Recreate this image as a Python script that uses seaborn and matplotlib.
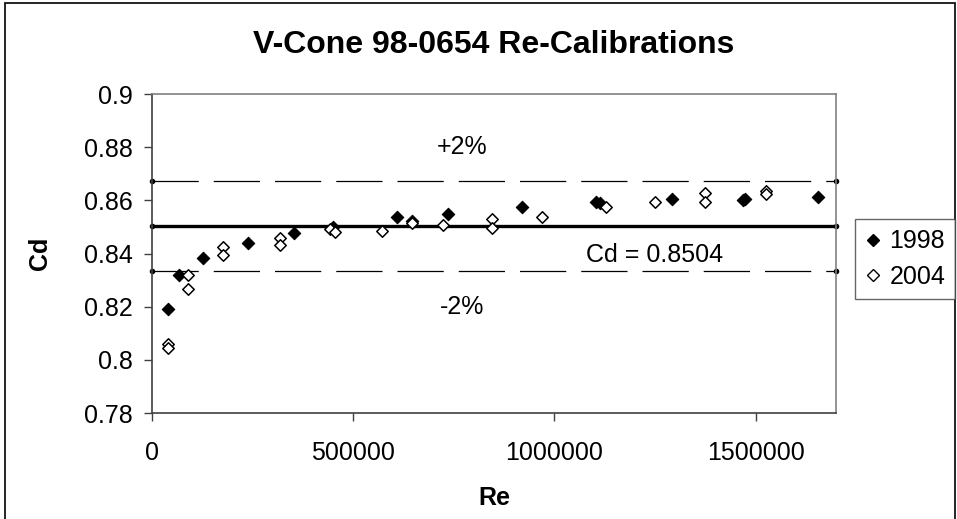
import matplotlib
matplotlib.use("Agg")
import pandas as pd
import seaborn as sns
from matplotlib import pyplot as plt
from matplotlib.lines import Line2D
from matplotlib.patches import Rectangle

# Calibration points
re_1998 = [39000, 68000, 127500, 239000, 353000, 449000, 610000, 645000,
           736000, 919000, 1103500, 1113500, 1292000, 1469000, 1474000, 1654500]
cd_1998 = [0.8190, 0.8319, 0.8383, 0.8438, 0.8476, 0.8498, 0.8537, 0.8522,
           0.8547, 0.8574, 0.8595, 0.8589, 0.8604, 0.8601, 0.8604, 0.8611]

re_2004 = [39000, 39000, 88700, 90200, 177000, 177000, 318000, 318000,
           442000, 455000, 571000, 645000, 724000, 844000, 844000, 970000,
           1128000, 1251000, 1375000, 1375000, 1525000, 1525000]
cd_2004 = [0.8058, 0.8043, 0.8265, 0.8319, 0.8423, 0.8394, 0.8457, 0.8432,
           0.8491, 0.8482, 0.8485, 0.8515, 0.8507, 0.8530, 0.8496, 0.8538,
           0.8574, 0.8595, 0.8629, 0.8595, 0.8636, 0.8624]

cd_mean = 0.8504
band = 0.02
re_range = [0, 1700000]

plt.rcParams['font.family'] = ['Liberation Sans', 'DejaVu Sans']

df98 = pd.DataFrame({'Re': re_1998, 'Cd': cd_1998})
df04 = pd.DataFrame({'Re': re_2004, 'Cd': cd_2004})

fig = plt.figure(figsize=(9.57, 5.19), dpi=100)
ax = fig.add_axes([152 / 957, 1 - 413 / 519, 684 / 957, 319 / 519])

# mean and +/- 2% lines
upper = cd_mean * (1 + band)
lower = cd_mean * (1 - band)
ax.plot(re_range, [cd_mean, cd_mean], color='black', lw=2.4, marker='o', ms=3,
        solid_capstyle='butt', clip_on=False, zorder=2)
for yv in (upper, lower):
    ax.plot(re_range, [yv, yv], color='black', lw=0.9, dashes=(37, 12),
            marker='o', ms=3, clip_on=False, zorder=2)

sns.scatterplot(data=df98, x='Re', y='Cd', ax=ax, marker='D', s=40,
                color='black', edgecolor='black', linewidth=0.8, zorder=3)
sns.scatterplot(data=df04, x='Re', y='Cd', ax=ax, marker='D', s=34,
                facecolor='white', edgecolor='black', linewidth=1.1, zorder=4)

ax.set_xlim(re_range)
ax.set_ylim(0.78, 0.9)
ax.set_xticks([0, 500000, 1000000, 1500000])
ax.set_xticklabels(['0', '500000', '1000000', '1500000'])
ax.set_yticks([0.78, 0.8, 0.82, 0.84, 0.86, 0.88, 0.9])
ax.set_yticklabels(['0.78', '0.8', '0.82', '0.84', '0.86', '0.88', '0.9'])
ax.tick_params(labelsize=18, length=6, width=1, color='#404040')
ax.tick_params(axis='x', pad=14)
ax.tick_params(axis='y', pad=8)
ax.set_xlabel('')
ax.set_ylabel('')

for side in ('left', 'bottom'):
    ax.spines[side].set_color('#404040')
    ax.spines[side].set_linewidth(1.2)
for side in ('top', 'right'):
    ax.spines[side].set_color('#808080')
    ax.spines[side].set_linewidth(1.2)

ax.text(770000, 0.8802, '+2%', fontsize=18, ha='center', va='center')
ax.text(770000, 0.8199, '-2%', fontsize=18, ha='center', va='center')
ax.text(1250000, 0.8394, 'Cd = 0.8504', fontsize=18, ha='center', va='center')

fig.text(494 / 957, 1 - 45 / 519, 'V-Cone 98-0654 Re-Calibrations',
         fontsize=23, fontweight='bold', ha='center', va='center')
fig.text(494 / 957, 1 - 498 / 519, 'Re', fontsize=18, fontweight='bold',
         ha='center', va='center')
fig.text(40 / 957, 1 - 253 / 519, 'Cd', fontsize=18, fontweight='bold',
         ha='center', va='center', rotation=90)

handles = [
    Line2D([0], [0], ls='none', marker='D', ms=6.5, color='black', label='1998'),
    Line2D([0], [0], ls='none', marker='D', ms=6.5, markerfacecolor='white',
           markeredgecolor='black', markeredgewidth=1, label='2004'),
]
leg = fig.legend(handles=handles, loc='center',
                 bbox_to_anchor=(905 / 957, 1 - 259 / 519), fontsize=18,
                 frameon=True, fancybox=False, edgecolor='#404040',
                 handlelength=0.7, handletextpad=0.3, borderpad=0.4,
                 borderaxespad=0, labelspacing=0.45)
leg.get_frame().set_linewidth(1)

# outer chart border
fig.patches.append(Rectangle((5 / 957, -0.01), 950 / 957, 1.01 - 3 / 519,
                             transform=fig.transFigure, fill=False,
                             edgecolor='black', linewidth=1.2))

fig.savefig('out.png', dpi=100)
